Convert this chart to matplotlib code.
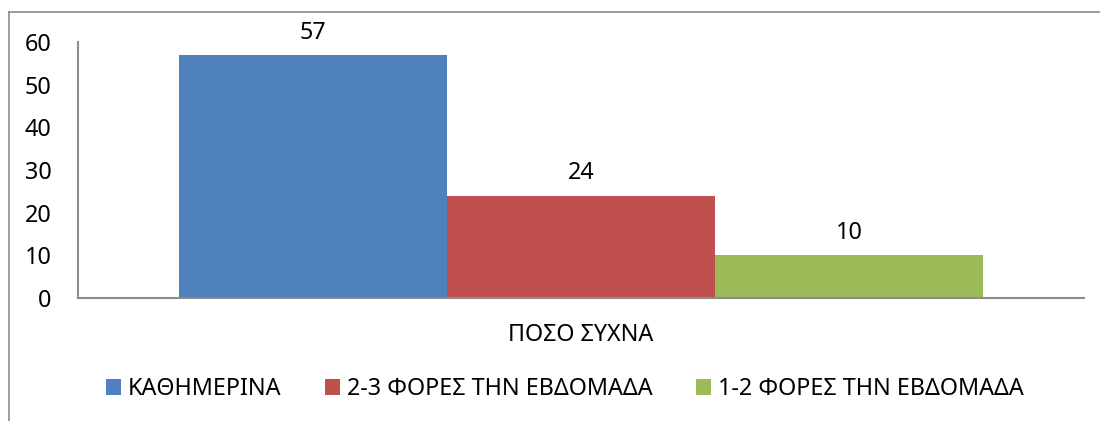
import matplotlib
matplotlib.use("Agg")
import matplotlib.pyplot as plt
from matplotlib.lines import Line2D
from matplotlib.patches import Patch

plt.rcParams['font.family'] = ['Noto Sans', 'DejaVu Sans']

category = "ΠΟΣΟ ΣΥΧΝΑ"
series_names = ["ΚΑΘΗΜΕΡΙΝΑ", "2-3 ΦΟΡΕΣ ΤΗΝ ΕΒΔΟΜΑΔΑ", "1-2 ΦΟΡΕΣ ΤΗΝ ΕΒΔΟΜΑΔΑ"]
values = [57, 24, 10]
colors = ["#4F81BD", "#C0504D", "#9BBB59"]
yticks = [0, 10, 20, 30, 40, 50, 60]

FS = 16.8

fig = plt.figure(figsize=(11, 4.21), dpi=100)
ax = fig.add_axes([78/1100, 1-298/421, (1084-78)/1100, (298-42)/421])

n = len(values)
group = 0.8
w = group / n
for i, (v, c, name) in enumerate(zip(values, colors, series_names)):
    x = -group/2 + w*(i+0.5)
    ax.bar(x, v, width=w, color=c, label=name)
    ax.annotate(str(v), (x, v), xytext=(0, 16), textcoords='offset points',
                ha='center', va='center', fontsize=FS)

ax.set_xlim(-0.5, 0.5)
ax.set_ylim(0, 60)
ax.set_yticks(yticks)
ax.set_xticks([0])
ax.set_xticklabels([category])
ax.tick_params(axis='y', length=0, pad=19, labelsize=FS)
ax.tick_params(axis='x', length=0, pad=18, labelsize=FS)
for s in ['top', 'right']:
    ax.spines[s].set_visible(False)
for s in ['left', 'bottom']:
    ax.spines[s].set_color('#8c8c8c')
    ax.spines[s].set_linewidth(1.5)

handles = [Patch(facecolor=c, edgecolor='none') for c in colors]
fig.legend(handles, series_names, loc='center', bbox_to_anchor=(565/1100, 1-389/421),
           ncol=3, frameon=False, fontsize=FS, handlelength=0.64, handleheight=0.64,
           handletextpad=0.3, columnspacing=1.86, borderpad=0, borderaxespad=0)

# outer chart border (left and top visible)
fig.add_artist(Line2D([9/1100, 9/1100], [0, 1-11.5/421], color='#8c8c8c', lw=1.2))
fig.add_artist(Line2D([9/1100, 1], [1-11.5/421, 1-11.5/421], color='#8c8c8c', lw=1.2))

fig.savefig("out.png", dpi=100)
